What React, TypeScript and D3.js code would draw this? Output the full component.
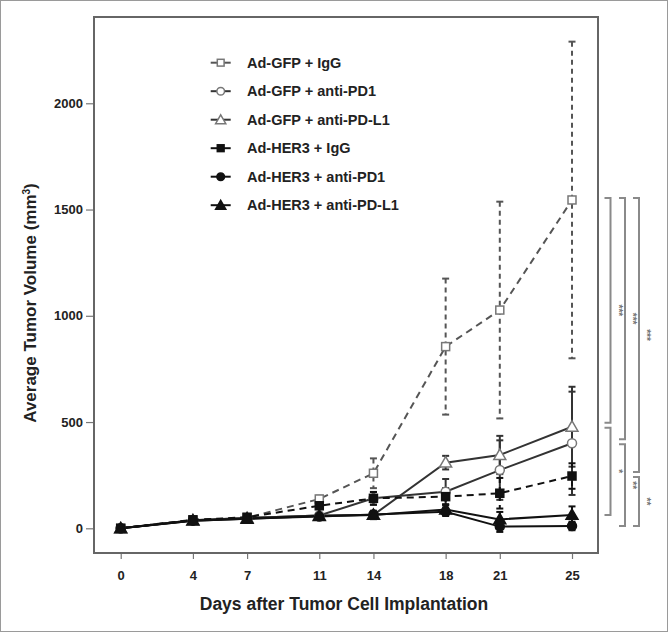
import React, { useEffect, useRef } from 'react';
import * as d3 from 'd3';

// days after implantation
const days = [0, 4, 7, 11, 14, 18, 21, 25];
const yTicks = [0, 500, 1000, 1500, 2000];

const seriesNames = [
  'Ad-GFP + IgG',
  'Ad-GFP + anti-PD1',
  'Ad-GFP + anti-PD-L1',
  'Ad-HER3 + IgG',
  'Ad-HER3 + anti-PD1',
  'Ad-HER3 + anti-PD-L1',
];

// mean tumor volume per group
const gfpIgG = [0, 38, 50, 138, 259, 855, 1027, 1545];
const gfpPD1 = [0, 38, 48, 60, 141, 172, 274, 400];
const gfpPDL1 = [0, 38, 48, 60, 63, 309, 345, 478];
const her3IgG = [0, 40, 52, 106, 141, 149, 165, 246];
const her3PD1 = [0, 36, 45, 55, 65, 78, 8, 11];
const her3PDL1 = [0, 36, 45, 58, 63, 88, 42, 63];

// error bars
const gfpIgGErr = [0, 5, 8, 15, 70, 320, 510, 745];
const gfpPD1Err = [0, 5, 6, 10, 30, 60, 140, 243];
const gfpPDL1Err = [0, 5, 6, 10, 20, 32, 90, 188];
const her3IgGErr = [0, 5, 8, 15, 30, 40, 72, 60];
const her3PD1Err = [0, 5, 6, 8, 12, 20, 25, 20];
const her3PDL1Err = [0, 5, 6, 8, 12, 25, 35, 40];

// significance brackets at day 25: [from series, to series, label]
const bracketCol1 = [[0, 2, '***'], [2, 5, '*']];
const bracketCol2 = [[0, 1, '***'], [1, 4, '**']];
const bracketCol3 = [[0, 3, '***'], [3, 4, '**']];

const App = () => {
  const ref = useRef<SVGSVGElement>(null);
  const width = 668;
  const height = 632;

  useEffect(() => {
    const svg = d3.select(ref.current);
    svg.selectAll('*').remove();

    const font = '"Liberation Sans", Arial, sans-serif';
    const left = 94, right = 598, top = 17, bottom = 553;

    const x = d3.scaleLinear().domain([-1.48, 26.44]).range([left, right]);
    const y = d3.scaleLinear().domain([-116.2, 2406]).range([bottom, top]);

    const means = [gfpIgG, gfpPD1, gfpPDL1, her3IgG, her3PD1, her3PDL1];
    const errs = [gfpIgGErr, gfpPD1Err, gfpPDL1Err, her3IgGErr, her3PD1Err, her3PDL1Err];
    const dashed = [true, false, false, true, false, false];
    const lineColor = ['#555', '#333', '#333', '#111', '#111', '#111'];
    const markerType = ['square', 'circle', 'triangle', 'square', 'circle', 'triangle'];
    const filled = [false, false, false, true, true, true];

    // outer frame
    svg.append('rect')
      .attr('x', 0.5).attr('y', 0.5)
      .attr('width', width - 1).attr('height', height - 1)
      .attr('fill', 'white')
      .attr('stroke', '#9a9a9a');

    // axes
    const yAxis = svg.append('g')
      .attr('transform', `translate(${left},0)`)
      .call(d3.axisLeft(y).tickValues(yTicks).tickFormat(d3.format('d')).tickSize(8).tickPadding(3));
    const xAxis = svg.append('g')
      .attr('transform', `translate(0,${bottom})`)
      .call(d3.axisBottom(x).tickValues(days).tickFormat(d3.format('d')).tickSize(6).tickPadding(12));

    [yAxis, xAxis].forEach(ax => {
      ax.select('.domain').remove();
      ax.selectAll('line').attr('stroke', '#777').attr('stroke-width', 1.2);
      ax.selectAll('text')
        .attr('fill', '#222')
        .style('font-family', font)
        .style('font-weight', 'bold')
        .style('font-size', '13px');
    });

    // plot box
    svg.append('rect')
      .attr('x', left).attr('y', top)
      .attr('width', right - left).attr('height', bottom - top)
      .attr('fill', 'none')
      .attr('stroke', '#666')
      .attr('stroke-width', 2);

    // axis titles
    svg.append('text')
      .attr('x', (left + right) / 2 - 2)
      .attr('y', 610)
      .attr('text-anchor', 'middle')
      .attr('fill', '#222')
      .style('font-family', font)
      .style('font-weight', 'bold')
      .style('font-size', '17.5px')
      .text('Days after Tumor Cell Implantation');

    const yTitle = svg.append('text')
      .attr('transform', 'translate(36,303) rotate(-90)')
      .attr('text-anchor', 'middle')
      .attr('fill', '#222')
      .style('font-family', font)
      .style('font-weight', 'bold')
      .style('font-size', '17px');
    yTitle.append('tspan').text('Average Tumor Volume (mm');
    yTitle.append('tspan').attr('dy', -6).style('font-size', '10px').text('3');
    yTitle.append('tspan').attr('dy', 6).text(')');

    const drawMarker = (g, type, cx, cy, isFilled, color, k = 1) => {
      const fill = isFilled ? '#111' : 'white';
      const stroke = isFilled ? '#111' : color;
      if (type === 'square') {
        const h = 4 * k;
        g.append('rect')
          .attr('x', cx - h).attr('y', cy - h)
          .attr('width', 2 * h).attr('height', 2 * h)
          .attr('fill', fill).attr('stroke', stroke).attr('stroke-width', 1.5);
      } else if (type === 'circle') {
        g.append('circle')
          .attr('cx', cx).attr('cy', cy).attr('r', 4.5 * k)
          .attr('fill', fill).attr('stroke', stroke).attr('stroke-width', 1.5);
      } else {
        g.append('path')
          .attr('transform', `translate(${cx},${cy + 1})`)
          .attr('d', d3.symbol().type(d3.symbolTriangle).size(62 * k * k)())
          .attr('fill', fill).attr('stroke', stroke).attr('stroke-width', 1.5);
      }
    };

    const plot = svg.append('g');

    // error bars
    means.forEach((m, s) => {
      const g = plot.append('g')
        .attr('stroke', lineColor[s])
        .attr('stroke-width', 2);
      m.forEach((v, i) => {
        const e = errs[s][i];
        if (e <= 0) return;
        const cx = x(days[i]);
        g.append('line')
          .attr('x1', cx).attr('x2', cx)
          .attr('y1', y(v + e)).attr('y2', y(v - e))
          .attr('stroke-dasharray', dashed[s] ? '5,4' : null);
        [v + e, v - e].forEach(t => {
          g.append('line')
            .attr('x1', cx - 3.5).attr('x2', cx + 3.5)
            .attr('y1', y(t)).attr('y2', y(t));
        });
      });
    });

    // lines
    const line = d3.line<number>()
      .x((_, i) => x(days[i]))
      .y(d => y(d));
    means.forEach((m, s) => {
      plot.append('path')
        .datum(m)
        .attr('fill', 'none')
        .attr('stroke', lineColor[s])
        .attr('stroke-width', 2)
        .attr('stroke-dasharray', dashed[s] ? '7,5' : null)
        .attr('d', line);
    });

    // markers
    means.forEach((m, s) => {
      const g = plot.append('g');
      m.forEach((v, i) => drawMarker(g, markerType[s], x(days[i]), y(v), filled[s], '#777'));
    });

    // legend
    const legend = svg.append('g');
    seriesNames.forEach((name, s) => {
      const ly = 62.7 + s * 28.5;
      legend.append('line')
        .attr('x1', 210.7).attr('x2', 230.7)
        .attr('y1', ly).attr('y2', ly)
        .attr('stroke', lineColor[s])
        .attr('stroke-width', 2);
      drawMarker(legend, markerType[s], 220.7, ly, filled[s], '#777', 0.85);
      legend.append('text')
        .attr('x', 247)
        .attr('y', ly)
        .attr('dy', '.35em')
        .attr('fill', '#222')
        .style('font-family', font)
        .style('font-weight', 'bold')
        .style('font-size', '14.5px')
        .text(name);
    });

    // significance brackets
    const last = days.length - 1;
    const brackets = svg.append('g')
      .attr('stroke', '#8a8a8a')
      .attr('stroke-width', 2)
      .attr('fill', 'none');
    const drawCol = (col, lx) => {
      col.forEach(([a, b, label], k) => {
        const y1 = k === 0 ? y(means[a][last]) - 2 : y(means[a][last]) + 1;
        const y2 = k === 0 ? y(means[b][last]) - 4 : y(means[b][last]);
        brackets.append('path')
          .attr('d', `M${lx - 6},${y1}H${lx}V${y2}H${lx - 6}`);
        svg.append('text')
          .attr('transform', `translate(${lx + 4},${(y1 + y2) / 2}) rotate(90)`)
          .attr('text-anchor', 'middle')
          .attr('fill', '#777')
          .style('font-family', font)
          .style('font-weight', 'bold')
          .style('font-size', '10px')
          .text(label);
      });
    };
    drawCol(bracketCol1, 610.5);
    drawCol(bracketCol2, 625);
    drawCol(bracketCol3, 639);
  }, []);

  return (
    <svg
      ref={ref}
      width={width}
      height={height}
      viewBox={`0 0 ${width} ${height}`}
      style={{ position: 'absolute', left: 0, top: 0 }}
    />
  );
};

export default App;
